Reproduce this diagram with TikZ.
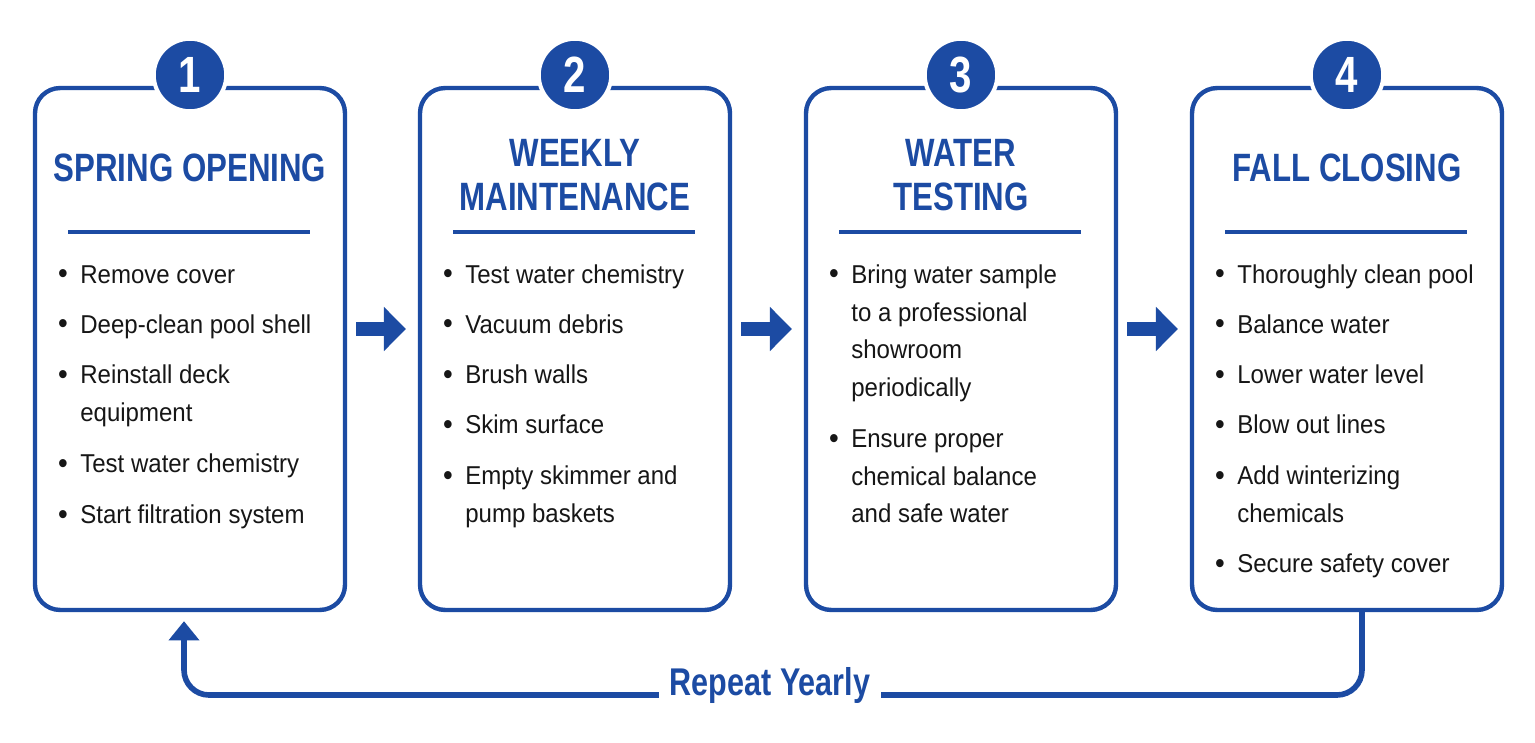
\documentclass[tikz,border=0pt]{standalone}
\usepackage{fontspec}
\setmainfont{Liberation Sans}[FakeStretch=0.93]
\newfontfamily\titlefont{Liberation Sans}[FakeStretch=0.79]
\usetikzlibrary{arrows.meta,calc}
\definecolor{pblue}{RGB}{28,75,163}
\definecolor{ptext}{RGB}{22,22,22}
\tikzset{
  stagebox/.style={draw=pblue, line width=2.5pt, rounded corners=0.5cm, fill=white,
    minimum width=6.2cm, minimum height=10.44cm, inner sep=0pt},
  numcircle/.style={circle, fill=pblue, draw=white, line width=2.3pt, minimum size=1.45cm,
    inner sep=0pt, text=white, font=\titlefont\bfseries\fontsize{29}{29}\selectfont},
  stagetitle/.style={text=pblue, align=center, inner sep=0pt,
    font=\titlefont\bfseries\fontsize{22.5}{25.5}\selectfont},
  sepline/.style={draw=pblue, line width=2pt},
  itemtext/.style={text=ptext, align=left, inner sep=0pt, anchor=north west,
    font=\fontsize{14.7}{21.5}\selectfont},
  bulletdot/.style={text=ptext, inner sep=0pt, anchor=base, font=\fontsize{17}{21.5}\selectfont},
  stagearrow/.style={draw=pblue, line width=8.5pt, -{Triangle[length=12.5pt,width=24.5pt]}},
  looppath/.style={draw=pblue, line width=3.2pt, rounded corners=0.5cm, -{Triangle[length=11pt,width=17pt]}},
  looplabel/.style={fill=white, text=pblue, inner xsep=6pt, inner ysep=2pt,
    font=\titlefont\bfseries\fontsize{22}{22}\selectfont}
}
% name, x (box left), y baseline of first line (px), text
\newcommand{\stageitem}[4]{%
  \node[bulletdot] (#1b) at (#2+28,#3+1) {\textbullet};
  \node[itemtext] (#1) at (#2+45,#3-19.4) {\rule{0pt}{11pt}#4};
}
\begin{document}
\begin{tikzpicture}[x=0.02cm,y=-0.02cm]
\useasboundingbox[fill=white] (0,0) rectangle (1535,743);

% boxes
\node[stagebox] (b1) at (190,349) {};
\node[stagebox] (b2) at (575,349) {};
\node[stagebox] (b3) at (961,349) {};
\node[stagebox] (b4) at (1347,349) {};

% number circles
\node[numcircle] (c1) at (190,75) {1};
\node[numcircle] (c2) at (575,75) {2};
\node[numcircle] (c3) at (961,75) {3};
\node[numcircle] (c4) at (1347,75) {4};

% titles
\node[stagetitle] (t1) at (190,168) {SPRING OPENING};
\node[stagetitle] (t2) at (575,175) {WEEKLY\\MAINTENANCE};
\node[stagetitle] (t3) at (961,175) {WATER\\TESTING};
\node[stagetitle] (t4) at (1347,168) {FALL CLOSING};

% separators
\foreach \cx/\n in {190/1,575/2,961/3,1347/4}{
  \coordinate (sl\n) at (\cx-122,232);
  \coordinate (sr\n) at (\cx+120,232);
  \draw[sepline] (sl\n) -- (sr\n);
}

% items box 1
\stageitem{i11}{35}{283}{Remove cover}
\stageitem{i12}{35}{333}{Deep-clean pool shell}
\stageitem{i13}{35}{383}{Reinstall deck\\equipment}
\stageitem{i14}{35}{472}{Test water chemistry}
\stageitem{i15}{35}{523}{Start filtration system}

% items box 2
\stageitem{i21}{420}{283}{Test water chemistry}
\stageitem{i22}{420}{333}{Vacuum debris}
\stageitem{i23}{420}{383}{Brush walls}
\stageitem{i24}{420}{433}{Skim surface}
\stageitem{i25}{420}{484}{Empty skimmer and\\pump baskets}

% items box 3
\stageitem{i31}{806}{283}{Bring water sample\\to a professional\\showroom\\periodically}
\stageitem{i32}{806}{447}{Ensure proper\\chemical balance\\and safe water}

% items box 4
\stageitem{i41}{1192}{283}{Thoroughly clean pool}
\stageitem{i42}{1192}{333}{Balance water}
\stageitem{i43}{1192}{383}{Lower water level}
\stageitem{i44}{1192}{433}{Blow out lines}
\stageitem{i45}{1192}{484}{Add winterizing\\chemicals}
\stageitem{i46}{1192}{572}{Secure safety cover}

% arrows between stages
\draw[stagearrow] ($(b1.east)+(9,-20)$) -- ($(b2.west)+(-12,-20)$);
\draw[stagearrow] ($(b2.east)+(9,-20)$) -- ($(b3.west)+(-12,-20)$);
\draw[stagearrow] ($(b3.east)+(9,-20)$) -- ($(b4.west)+(-12,-20)$);

% yearly loop
\coordinate (lstart) at ($(b4.south)+(15,0)$);
\coordinate (lend) at ($(b1.south)+(-6,9)$);
\draw[looppath] (lstart) -- (lstart |- 0,695) -- (lend |- 0,695) -- (lend);
\node[looplabel] (rep) at (770,686) {Repeat Yearly};
\end{tikzpicture}
\end{document}
